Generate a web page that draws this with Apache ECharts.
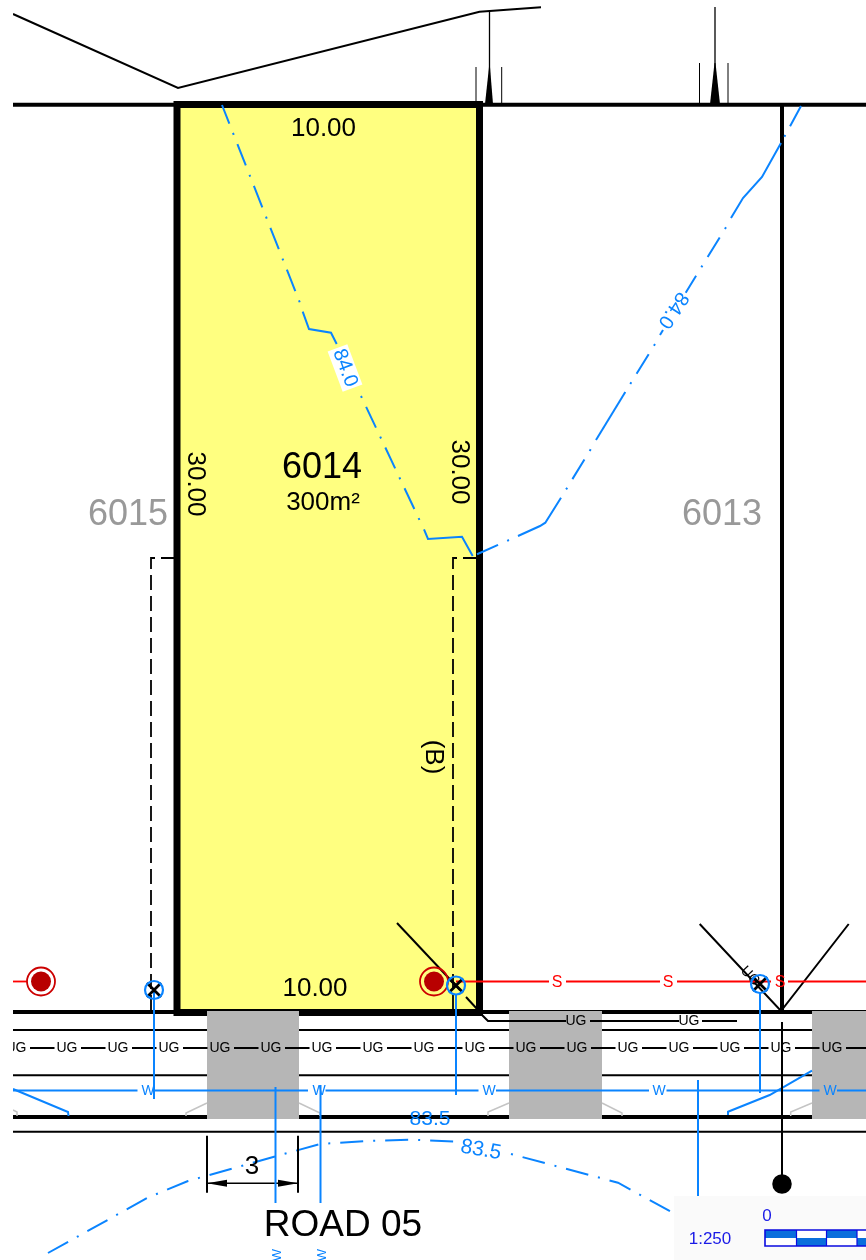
<!DOCTYPE html>
<html><head><meta charset="utf-8">
<style>html,body{margin:0;padding:0;background:#fff}#c{width:866px;height:1260px}</style>
<script src="https://cdn.jsdelivr.net/npm/echarts@6/dist/echarts.min.js"></script>
</head><body><div id="c"></div>
<script>
const lotNumbers = ['6014', '6015', '6013'];
const lotArea = '300m²';
const lotFrontage = '10.00';
const lotDepth = '30.00';
const roadName = 'ROAD 05';
const contourLabels = ['84.0', '83.5'];
const scaleText = ['1:250', '0'];
const ugLabelX = [16, 67, 118, 169, 220, 271, 322, 373, 424, 475, 526, 577, 628, 679, 730, 781, 832];
const ugServiceLabelX = [576, 689];
const waterLabelX = [148, 319, 489, 659, 830];
const sewerLabelX = [557, 668, 780];
const lotOutline = [[177,104.5],[479.5,104.5],[479.5,1012.5],[177,1012.5],[177,104.5],[479.5,104.5]];
const boundaryTop = [[13,14],[178,88],[479.5,11.7],[541,7.3]];
const roadRows = [104.8, 1012, 1030, 1075.3, 1117, 1131.7];
const driveways = [[207,299],[509,602],[812,866]];
const contourA1 = [[222,105],[300,303]];
const contourA2 = [[302.7,311.7],[309,329],[331,332.7],[336.7,344]];
const contourA3 = [[361,396],[419.5,520]];
const contourA4 = [[424,529.3],[428,539],[462,536.7],[472.7,556]];
const contourB1 = [[801,106],[781,143]];
const contourB2 = [[781,143],[762,177],[743,198],[731,218]];
const contourB3 = [[726,227.3],[685.7,292.7]];
const contourB4 = [[663,330],[660,335]];
const contourB5 = [[655,344],[625.3,392]];
const contourB6 = [[625.3,392],[596,440]];
const contourB7 = [[590.7,449.3],[561,497.7]];
const contourB8 = [[561,497.7],[545.3,522.7],[540,526],[518,536]];
const contourB9 = [[509,540],[473,556]];
const contourC1 = [[48,1253],[147.7,1197.7],[188,1181],[276.7,1156],[320,1144],[366,1141],[410.7,1139.7],[456,1141.7]];
const contourC2 = [[511,1154],[618,1182.7],[671,1211.7]];
const gateValves = [[154,990],[456,985.5],[760,984]];
const sewerPits = [[41,981.5],[434,981.5]];
const waterStubs = [[[154,990],[154,1099]],[[456,995],[456,1095]],[[760,993],[760,1093]],[[275.5,1087],[275.5,1203]],[[320.5,1085],[320.5,1203]],[[698,1080],[698,1196]]];
const scaleBarRows = [[765,796.5,1],[796.5,826.5,0],[826.5,857,1],[857,866,0]];

// ---- helpers ----
const BLUE = '#0a84ff', RED = '#ff0000', DASH = [23, 10, 2, 10], DOT_START = 33, CW = 2;
let z = 2; const series = [];
const line = (pts, color = '#000', width = 2, dash, offset = 0) => series.push({
  type: 'line', data: pts, symbol: 'none', silent: true, animation: false, z: z++,
  lineStyle: { color, width, type: dash || 'solid', dashOffset: offset, cap: 'butt', join: 'miter' }
});
const poly = (pts, fill) => series.push({
  type: 'custom', data: pts, silent: true, animation: false, z: z++, clip: true,
  encode: { x: 0, y: 1 },
  renderItem: (p, api) => p.dataIndex ? null : ({
    type: 'polygon', shape: { points: pts.map(q => api.coord(q)) }, style: { fill }
  })
});
const rect = (x0, x1, y0, y1, fill) => poly([[x0,y0],[x1,y0],[x1,y1],[x0,y1]], fill);
const text = (str, x, y, size, color = '#000', rotate = 0, extra = {}) => series.push({
  type: 'scatter', data: [[x, rotate ? y : y + size * 0.07]], symbolSize: 0, silent: true, animation: false, z: z++,
  itemStyle: { opacity: 1 },
  label: { show: true, position: 'inside', formatter: () => str, fontFamily: 'Liberation Sans', fontSize: size, color, rotate, align: 'center', verticalAlign: 'middle', opacity: 1, ...extra }
});
const dots = (pts, size, itemStyle, symbol = 'circle') => series.push({
  type: 'scatter', data: pts, symbol, symbolSize: size, silent: true, animation: false, z: z++, itemStyle: { opacity: 1, ...itemStyle }
});
const hline = (y, x0, x1, ...rest) => line([[x0,y],[x1,y]], ...rest);

// ---- site ----
rect(177, 479.5, 104.5, 1012.5, '#ffff80');
line(boundaryTop, '#000', 2);
line([[489.5,11.7],[489.5,104]], '#000', 1.3);
line([[476,67],[476,104]], '#000', 1);
line([[501.7,67],[501.7,104]], '#000', 1);
poly([[485,104],[489,67],[490,67],[493,104]], '#000');
line([[715,7],[715,104]], '#000', 1.3);
line([[699.5,63],[699.5,104]], '#000', 1);
line([[728,63],[728,104]], '#000', 1);
poly([[710,104],[714.5,63],[715.5,63],[720,104]], '#000');

// road rows
const rowWidths = [4, 3.8, 2, 2, 3.8, 2];
roadRows.forEach((y, i) => hline(y, 13, 866, '#000', rowWidths[i]));
line([[782,104],[782,1012]], '#000', 4);
line([[151,1010],[151,558],[178,558]], '#000', 1.8, [15, 6]);
line([[453,1010],[453,558],[478,558]], '#000', 1.8, [15, 6]);
line([[699.7,924],[781,1011],[848.7,924]], '#000', 2);
line([[397,923],[460,990]], '#000', 2);
line([[466,997],[478,1010]], '#000', 2);
line(lotOutline, '#000', 7);

// driveways & flares
driveways.forEach(d => rect(d[0], d[1], 1011, 1119, '#b6b6b6'));
line([[482,1015],[488,1021],[566,1021]], '#000', 2);
line([[590,1021],[679,1021]], '#000', 2);
line([[702,1021],[737,1021]], '#000', 2);
const GREY = '#c4c4c4';
line([[13,1110],[17,1112],[17,1116]], GREY, 1.5);
line([[186,1116],[186,1113],[207,1103]], GREY, 1.5);
line([[299,1103],[320,1113],[320,1116]], GREY, 1.5);
line([[488,1116],[488,1112],[509,1103]], GREY, 1.5);
line([[602,1103],[622,1113],[622,1116]], GREY, 1.5);
line([[790.7,1116],[790.7,1112],[812,1103]], GREY, 1.5);

// contours
line(contourA1, BLUE, CW, DASH, 3);
line(contourA2, BLUE, CW);
line(contourA3, BLUE, CW, DASH, DOT_START);
line(contourA4, BLUE, CW);
line(contourB1, BLUE, CW, DASH);
line(contourB2, BLUE, CW);
line(contourB3, BLUE, CW, DASH, DOT_START);
line(contourB4, BLUE, CW);
line(contourB5, BLUE, CW, DASH, DOT_START);
line(contourB6, BLUE, CW);
line(contourB7, BLUE, CW, DASH, DOT_START);
line(contourB8, BLUE, CW);
line(contourB9, BLUE, CW, DASH, DOT_START);
line(contourC1, BLUE, CW, DASH);
line(contourC2, BLUE, CW, DASH, DOT_START);

// dimension "3"
line([[207,1135.7],[207,1192.7]], '#000', 2);
line([[298,1135.7],[298,1192.7]], '#000', 2);
hline(1183.3, 207, 298, '#000', 1.5);
poly([[207,1183.3],[227,1179.8],[227,1186.8]], '#000');
poly([[298,1183.3],[278,1179.8],[278,1186.8]], '#000');

// services
hline(1048, 13, 866, '#000', 2, [24.5, 26.5], 34);
hline(981.5, 13, 27, RED, 1.8);
hline(981.5, 456, 866, RED, 1.8, [94, 17], 1);
hline(1090.5, 13, 866, BLUE, 2, [153, 17.5], 28.5);
waterStubs.forEach(s => line(s, BLUE, 2));
line([[13,1089],[68,1112],[68.5,1116]], BLUE, 2);
line([[728,1115],[728,1111.7],[769.7,1095],[812,1070.7]], BLUE, 2);

// poles
line([[782,1022],[782,1184]], '#000', 2);
dots([[782,1184]], 19.5, { color: '#000' });

// texts
ugLabelX.forEach(x => text('UG', x, 1047.5, 14));
ugServiceLabelX.forEach(x => text('UG', x, 1020.5, 14));
text('UG', 750, 976, 14, '#000', -47);
waterLabelX.forEach(x => text('W', x, 1090, 14, BLUE));
text('W', 277, 1255, 13, BLUE, 90);
text('W', 322, 1255, 13, BLUE, 90);

text(lotNumbers[0], 322, 466, 36);
text(lotArea, 323, 501, 26);
text(lotFrontage, 323.5, 127, 26);
text(lotFrontage, 315, 987, 26);
text(lotDepth, 195, 484, 26, '#000', -90);
text(lotDepth, 459, 472, 26, '#000', -90);
text(lotNumbers[1], 128, 513, 36, '#999');
text(lotNumbers[2], 722, 513, 36, '#999');
text('(B)', 433, 757, 26, '#000', -90);
text('3', 252, 1165, 26);
text(roadName, 343, 1223, 37);
text(contourLabels[0], 345, 368, 20, BLUE, -69.5, { backgroundColor: '#fff', padding: [1, 2, 0, 2] });
text(contourLabels[0], 673, 310, 20, BLUE, -123);
text(contourLabels[1], 430, 1118, 21, BLUE);
text(contourLabels[1], 481, 1150, 21, BLUE, -10);

// pits & valves
dots(sewerPits, 28, { color: 'transparent', borderColor: '#cc0000', borderWidth: 1.8 });
dots(sewerPits, 20, { color: '#b80000' });
dots(gateValves, 14, { color: 'none', borderColor: '#000', borderWidth: 2.8 }, 'path://M0 0L10 10M10 0L0 10');
dots(gateValves, 18, { color: 'transparent', borderColor: BLUE, borderWidth: 2.2 });
sewerLabelX.forEach(x => text('S', x, 981, 16, RED));

// scale block
rect(674, 866, 1196, 1260, '#fafafa');
text(scaleText[0], 710, 1238, 17, '#1a1ae6');
text(scaleText[1], 767, 1215, 17, '#1a1ae6');
const SB = '#0a6fdc';
rect(765, 866, 1230, 1246, '#fff');
scaleBarRows.forEach(r => {
  rect(r[0], r[1], r[2] ? 1230 : 1238, r[2] ? 1238 : 1246, SB);
});
line([[866,1230],[765,1230],[765,1246],[866,1246]], '#0b0be0', 1.6);
[796.5, 826.5, 857].forEach(x => line([[x,1230],[x,1246]], '#0b0be0', 1.2));

// left margin of the sheet
rect(0, 13, 0, 1260, '#fff');

const chart = echarts.init(document.getElementById('c'), null, { renderer: 'canvas' });
chart.setOption({
  animation: false, backgroundColor: '#fff', tooltip: { show: false },
  grid: { left: 0, right: 0, top: 0, bottom: 0 },
  xAxis: { type: 'value', min: 0, max: 866, show: false },
  yAxis: { type: 'value', min: 0, max: 1260, inverse: true, show: false },
  series
});
</script></body></html>
